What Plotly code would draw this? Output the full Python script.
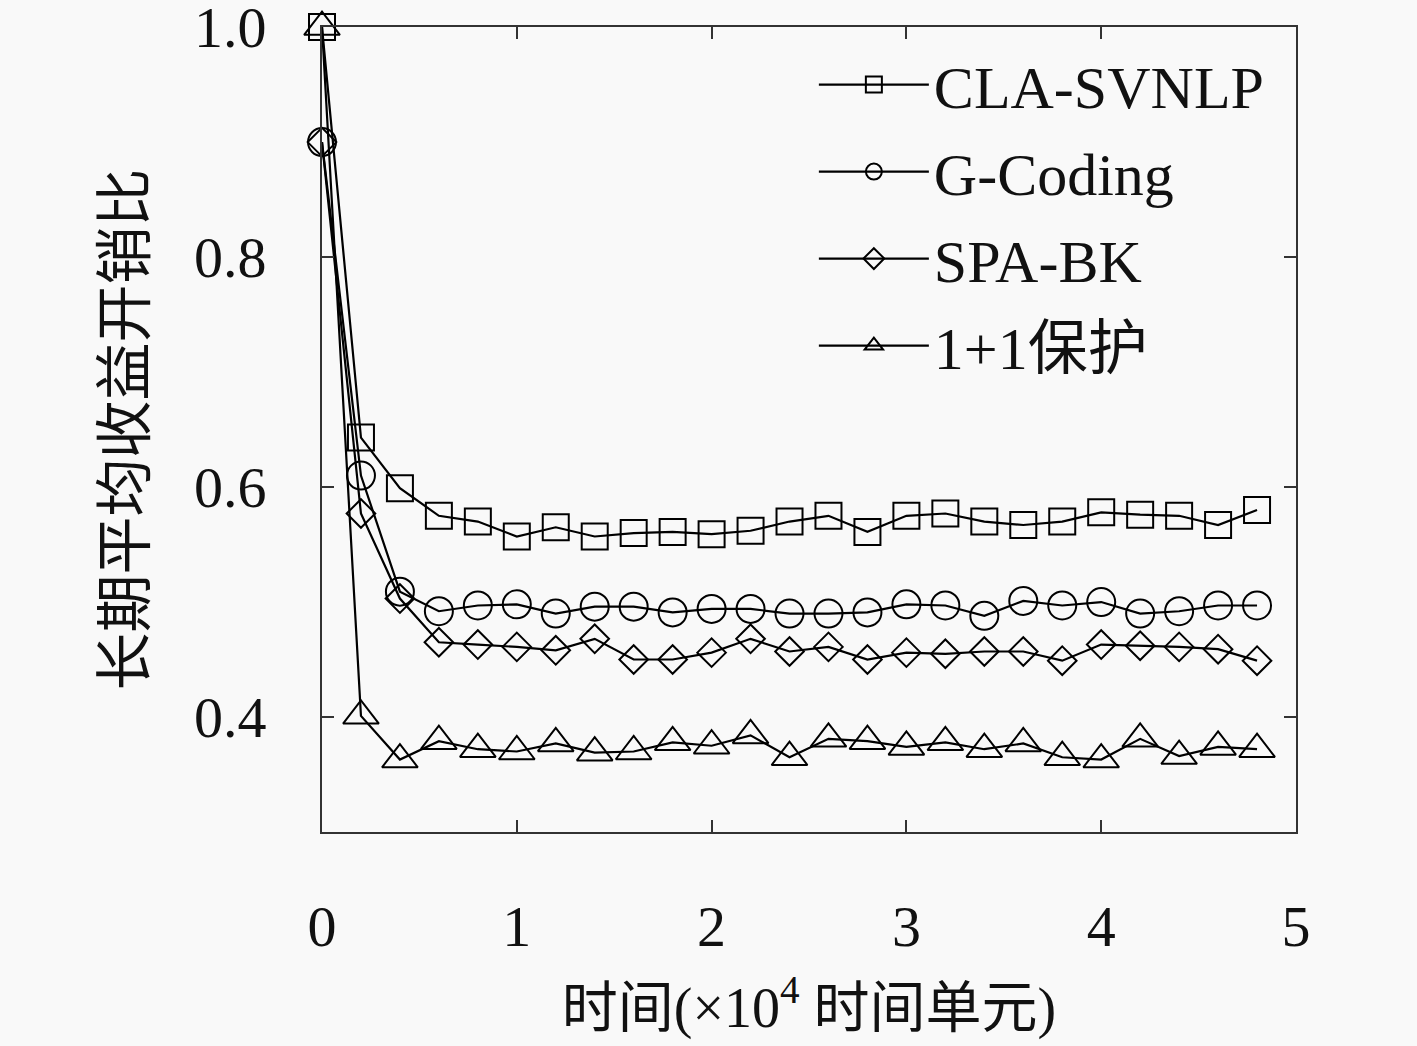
import plotly.graph_objects as go

x = [0, 0.2, 0.4, 0.6, 0.8, 1.0, 1.2, 1.4, 1.6, 1.8, 2.0, 2.2, 2.4, 2.6, 2.8, 3.0,
     3.2, 3.4, 3.6, 3.8, 4.0, 4.2, 4.4, 4.6, 4.8]

cla_svnlp = [1.0, 0.643, 0.599, 0.575, 0.570, 0.557, 0.565, 0.557, 0.560, 0.561, 0.559,
             0.562, 0.570, 0.575, 0.561, 0.575, 0.577, 0.570, 0.567, 0.570, 0.578,
             0.576, 0.575, 0.567, 0.580]
g_coding = [0.9, 0.610, 0.509, 0.492, 0.497, 0.498, 0.490, 0.496, 0.496, 0.491, 0.494,
            0.494, 0.490, 0.490, 0.491, 0.498, 0.497, 0.488, 0.501, 0.497, 0.500,
            0.490, 0.492, 0.497, 0.497]
spa_bk = [0.9, 0.577, 0.503, 0.465, 0.463, 0.461, 0.458, 0.468, 0.450, 0.450, 0.456,
          0.468, 0.457, 0.461, 0.450, 0.456, 0.455, 0.457, 0.457, 0.449, 0.463,
          0.462, 0.461, 0.459, 0.449]
prot_1p1 = [1.0, 0.401, 0.363, 0.379, 0.372, 0.370, 0.377, 0.369, 0.370, 0.378, 0.375,
            0.384, 0.365, 0.381, 0.379, 0.374, 0.378, 0.372, 0.377, 0.365, 0.363,
            0.381, 0.366, 0.374, 0.372]

names = ["CLA-SVNLP", "G-Coding", "SPA-BK", "1+1保护"]
series = [cla_svnlp, g_coding, spa_bk, prot_1p1]
symbols = ["square-open", "circle-open", "diamond-open", "triangle-up-open"]
sizes = [26, 28, 22, 31]

x_ticks = [0, 1, 2, 3, 4, 5]
y_ticks = [0.4, 0.6, 0.8, 1.0]

FONT = "Liberation Serif, Noto Sans CJK SC, serif"
BG = "#f9f9f9"

fig = go.Figure()
for nm, ys, sym, sz in zip(names, series, symbols, sizes):
    fig.add_trace(go.Scatter(
        x=x, y=ys, name=nm, mode="lines+markers",
        line=dict(color="black", width=2.2),
        marker=dict(symbol=sym, size=sz, color="black", line=dict(color="black", width=2)),
        legendgroup=nm, cliponaxis=False,
    ))

axis_common = dict(
    showline=True, linecolor="#333333", linewidth=2, mirror="ticks",
    ticks="inside", ticklen=12, tickwidth=1.5, tickcolor="#333333",
    showgrid=False, zeroline=False, ticklabeloverflow="allow", automargin=False,
    tickfont=dict(family=FONT, size=58, color="#111111"),
)

fig.update_layout(
    width=1417, height=1046,
    margin=dict(l=322, r=121, t=27, b=214),
    paper_bgcolor=BG, plot_bgcolor=BG,
    font=dict(family=FONT, color="#111111"),
    showlegend=True,
    legend=dict(
        x=0.505, y=0.985, xanchor="left", yanchor="top",
        bgcolor="rgba(0,0,0,0)", borderwidth=0,
        font=dict(family=FONT, size=60, color="#111111"),
        itemwidth=110, tracegroupgap=6,
    ),
    xaxis=dict(
        range=[0, 5], tickvals=x_ticks, ticktext=[str(v) for v in x_ticks],
        ticklabelstandoff=42,
        title=dict(text="时间(×10<sup>4</sup> 时间单元)", standoff=30,
                   font=dict(family=FONT, size=56, color="#111111")),
        **axis_common,
    ),
    yaxis=dict(
        range=[0.3, 1.0001], tickvals=y_ticks, ticktext=[f"{v:.1f}" for v in y_ticks],
        ticklabelstandoff=42,
        title=dict(text="长期平均收益开销比", standoff=30,
                   font=dict(family=FONT, size=58, color="#111111")),
        **axis_common,
    ),
)

fig.write_html("out.html", config={"displayModeBar": False},
               post_script="document.body.style.margin='0';")
